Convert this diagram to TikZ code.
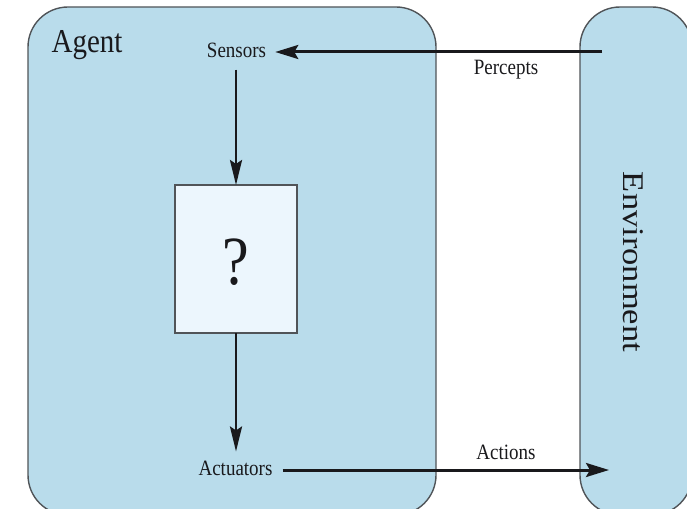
\documentclass[tikz,border=0pt]{standalone}
\usepackage{fontspec}
\usepackage{graphicx}
\setmainfont{Liberation Serif}
\usetikzlibrary{arrows.meta}

\definecolor{panelblue}{RGB}{185,220,235}
\definecolor{boxblue}{RGB}{236,246,253}
\definecolor{edgegray}{RGB}{80,84,88}
\definecolor{inkgray}{RGB}{25,25,28}

% text is set slightly taller than wide
\newcommand{\talltext}[1]{\scalebox{1}[1.15]{#1}}
\newcommand{\longtext}[1]{\scalebox{1.15}[1]{#1}}

\tikzset{
  panel/.style={draw=edgegray, line width=1.4pt, fill=panelblue,
    rounded corners=40pt, inner sep=0pt, outer sep=0pt},
  qbox/.style={draw=edgegray, line width=1.4pt, fill=boxblue,
    inner sep=0pt, outer sep=0pt},
  label/.style={text=inkgray, inner sep=0pt, font=\fontsize{19}{22}\selectfont},
  biglabel/.style={text=inkgray, inner sep=0pt, font=\fontsize{29}{34}\selectfont},
  flow/.style={draw=inkgray, line width=3pt,
    -{Stealth[length=23pt, width=14pt, inset=4pt]}},
  vflow/.style={draw=inkgray, line width=2.8pt,
    -{Stealth[length=25pt, width=12pt, inset=4pt]}},
}

\begin{document}
\begin{tikzpicture}[x=1pt, y=-1pt]
  \useasboundingbox (0,0) rectangle (687,508);

  % agent and environment panels
  \node[panel, minimum width=408pt, minimum height=508pt] (agent) at (232,261) {};
  \node[panel, minimum width=112pt, minimum height=508pt] (env) at (636,261) {};

  % the unknown agent program
  \node[qbox, minimum width=122pt, minimum height=148pt] (prog) at (236,259) {};
  \node[text=inkgray, font=\fontsize{60}{66}\selectfont] (qmark) at (236,262) {\talltext{?}};

  % labels
  \node[biglabel] (agentlbl) at (87,45) {\talltext{Agent}};
  \node[biglabel, font=\fontsize{30}{34}\selectfont, rotate=-90] (envlbl) at (633,262) {\longtext{Environment}};
  \node[label] (sensors) at (236.5,50) {\talltext{Sensors}};
  \node[label] (actuators) at (235.5,468) {\talltext{Actuators}};
  \node[label] (percepts) at (506,70) {\talltext{Percepts}};
  \node[label] (actions) at (506,452) {\talltext{Actions}};

  % connector end points inside the environment
  \coordinate (percsrc) at (602,52);
  \coordinate (acttip) at (609,470);

  % flows
  \draw[flow, shorten >=9pt] (percsrc) -- (sensors.east |- percsrc);
  \draw[vflow, shorten <=12pt] (sensors.south -| prog.north) -- (prog.north);
  \draw[vflow, shorten >=9pt] (prog.south) -- (actuators.north -| prog.south);
  \draw[flow, shorten <=10pt] (actuators.east |- acttip) -- (acttip);
\end{tikzpicture}
\end{document}
